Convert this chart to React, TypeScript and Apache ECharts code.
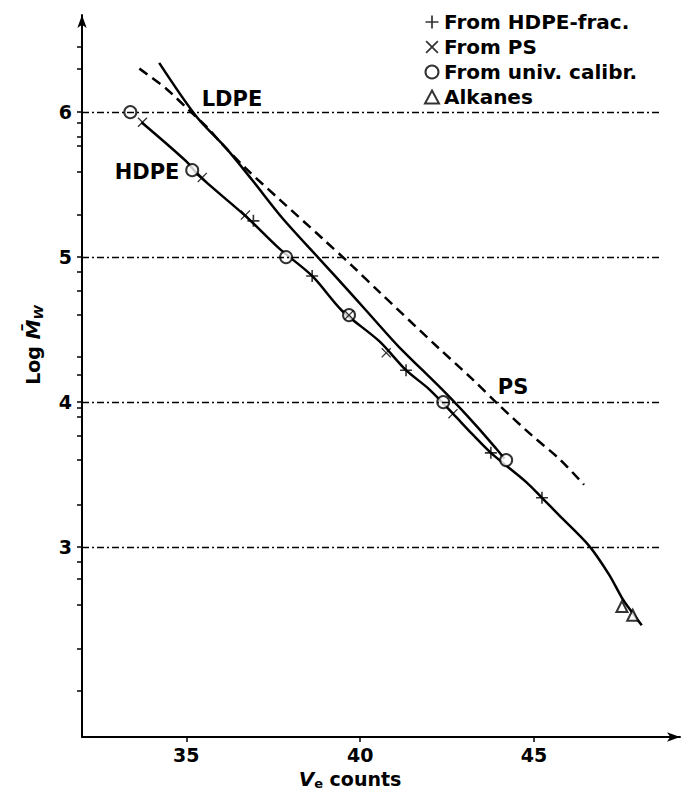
import React, { useEffect, useRef } from "react";
import * as echarts from "echarts";

// Axis ticks and labels
const xTickValues = [35, 40, 45];
const yLabelValues = [3, 4, 5, 6];
const yTickValues = [
  6.45, 6.3, 6, 5.93, 5.83, 5.77, 5.59, 5.29, 5, 4.9, 4.77, 4.6, 4.31, 4.19, 4,
  3.96, 3.9, 3.77, 3.6, 3.29, 3, 2.9, 2.78, 2.6, 2.3, 2.01,
];
const gridLevels = [3, 4, 5, 6];
const gridLineEnd = 48.65;

// Calibration curves: [Ve counts, log Mw]
const ldpeCurve = [
  [34.22, 6.34], [35.29, 5.97], [36.15, 5.75], [36.9, 5.53], [37.76, 5.27],
  [38.82, 4.99], [39.77, 4.74], [40.55, 4.53], [41.12, 4.38], [42.47, 4.06],
  [43.33, 3.84], [43.91, 3.68], [44.15, 3.61],
];
const hdpeCurve = [
  [33.71, 5.93], [35.0, 5.66], [35.37, 5.56], [36.72, 5.28], [37.67, 5.06],
  [38.62, 4.87], [39.48, 4.63], [40.55, 4.42], [41.32, 4.22], [41.98, 4.09],
  [42.67, 3.92], [43.22, 3.78], [43.76, 3.65], [44.77, 3.45], [45.23, 3.34],
  [45.72, 3.22], [46.58, 3.01], [47.16, 2.81], [47.53, 2.65], [47.82, 2.55],
  [48.1, 2.46],
];
const psCurve = [
  [33.65, 6.3], [34.43, 6.16], [35.09, 6.01], [35.58, 5.9], [36.03, 5.78],
  [36.72, 5.61], [37.67, 5.4], [38.91, 5.13], [39.77, 4.94], [40.55, 4.76],
  [42.27, 4.37], [43.22, 4.16], [43.99, 3.98], [44.94, 3.77], [45.72, 3.61],
  [46.44, 3.43],
];

// Measured points
const fromHdpeFrac = [[36.93, 5.25], [38.62, 4.87], [41.32, 4.22], [43.76, 3.65], [45.23, 3.34]];
const fromPs = [[33.74, 5.93], [35.46, 5.55], [36.7, 5.29], [39.68, 4.6], [40.75, 4.34], [42.67, 3.92]];
const fromUnivCalibr = [[33.39, 6.0], [35.17, 5.6], [37.87, 5.0], [39.68, 4.6], [42.39, 4.0], [44.2, 3.6]];
const alkanes = [[47.53, 2.59], [47.84, 2.53]];

const seriesNames = ["From HDPE-frac.", "From PS", "From univ. calibr.", "Alkanes"];

const FONT = "DejaVu Sans";
const plusSymbol = "path://M5.2,0H6.8V5.2H12V6.8H6.8V12H5.2V6.8H0V5.2H5.2Z";
const crossSymbol = "path://M0,1.1L1.1,0L6,4.9L10.9,0L12,1.1L7.1,6L12,10.9L10.9,12L6,7.1L1.1,12L0,10.9L4.9,6Z";

const curveLine = (data: number[][], type: any = "solid") => ({
  type: "line",
  data,
  smooth: 0.3,
  showSymbol: false,
  silent: true,
  z: 2,
  lineStyle: { color: "#000", width: 2.5, type },
});

const label = (text: string, x: number, y: number) => ({
  type: "text",
  x,
  y,
  style: {
    text,
    fontFamily: FONT,
    fontSize: 21,
    fontWeight: "bold",
    fill: "#000",
    align: "center",
    verticalAlign: "middle",
  },
});

const option: any = {
  animation: false,
  backgroundColor: "#fff",
  textStyle: { fontFamily: FONT },
  grid: { left: 82, right: 5, top: 15, bottom: 57 },
  xAxis: {
    type: "value",
    min: 32,
    max: 49.2,
    axisLine: {
      show: true,
      symbol: ["none", "arrow"],
      symbolSize: [7, 13],
      lineStyle: { color: "#000", width: 2 },
    },
    axisTick: { show: true, customValues: xTickValues, length: 5, lineStyle: { color: "#000", width: 1.5 } },
    axisLabel: {
      customValues: xTickValues,
      color: "#000",
      fontFamily: FONT,
      fontSize: 19,
      fontWeight: "bold",
      margin: 8,
    },
    splitLine: { show: false },
  },
  yAxis: {
    type: "value",
    min: 1.69,
    max: 6.67,
    axisLine: {
      show: true,
      symbol: ["none", "arrow"],
      symbolSize: [7, 13],
      lineStyle: { color: "#000", width: 2 },
    },
    axisTick: { show: true, customValues: yTickValues, length: 5, lineStyle: { color: "#000", width: 1.5 } },
    axisLabel: {
      customValues: yLabelValues,
      color: "#000",
      fontFamily: FONT,
      fontSize: 19,
      fontWeight: "bold",
      margin: 10,
    },
    splitLine: { show: false },
  },
  legend: {
    orient: "vertical",
    left: 419,
    top: 7,
    itemWidth: 14,
    itemHeight: 13,
    itemGap: 5,
    data: seriesNames,
    textStyle: { color: "#000", fontFamily: FONT, fontSize: 20, fontWeight: "bold" },
  },
  graphic: [
    label("LDPE", 232, 99),
    label("HDPE", 147, 172),
    label("PS", 513, 387),
    {
      type: "text",
      x: 33,
      y: 345,
      rotation: Math.PI / 2,
      style: {
        text: "{a|Log }{m|M\u0304}{w|W}",
        align: "center",
        verticalAlign: "middle",
        fill: "#000",
        rich: {
          a: { fontFamily: FONT, fontSize: 19, fontWeight: "bold", fill: "#000", lineHeight: 24, verticalAlign: "middle" },
          m: { fontFamily: FONT, fontSize: 20, fontWeight: "bold", fontStyle: "italic", fill: "#000", lineHeight: 24, verticalAlign: "middle" },
          w: { fontFamily: FONT, fontSize: 13, fontWeight: "bold", fontStyle: "italic", fill: "#000", lineHeight: 14, verticalAlign: "bottom" },
        },
      },
    },
    {
      type: "text",
      x: 350,
      y: 779,
      style: {
        text: "{v|V}{e|e}{c| counts}",
        align: "center",
        verticalAlign: "middle",
        fill: "#000",
        rich: {
          v: { fontFamily: FONT, fontSize: 20, fontWeight: "bold", fontStyle: "italic", fill: "#000", lineHeight: 22, verticalAlign: "middle" },
          e: { fontFamily: FONT, fontSize: 13, fontWeight: "bold", fill: "#000", lineHeight: 13, verticalAlign: "bottom" },
          c: { fontFamily: FONT, fontSize: 19, fontWeight: "bold", fill: "#000", lineHeight: 22, verticalAlign: "middle" },
        },
      },
    },
  ],
  series: [
    {
      ...curveLine(hdpeCurve),
      markLine: {
        silent: true,
        symbol: ["none", "none"],
        label: { show: false },
        lineStyle: { color: "#000", width: 1.3, type: [7, 3, 2, 3] },
        data: gridLevels.map((v) => [{ coord: [32, v] }, { coord: [gridLineEnd, v] }]),
      },
    },
    curveLine(ldpeCurve),
    curveLine(psCurve, [10, 6]),
    {
      name: seriesNames[2],
      type: "scatter",
      data: fromUnivCalibr,
      symbol: "emptyCircle",
      symbolSize: 12,
      z: 3,
      itemStyle: { color: "#000", borderColor: "#000", borderWidth: 2 },
    },
    {
      name: seriesNames[0],
      type: "scatter",
      data: fromHdpeFrac,
      symbol: plusSymbol,
      symbolSize: 12,
      z: 4,
      itemStyle: { color: "#000" },
    },
    {
      name: seriesNames[1],
      type: "scatter",
      data: fromPs,
      symbol: crossSymbol,
      symbolSize: 10,
      z: 4,
      itemStyle: { color: "#000" },
    },
    {
      name: seriesNames[3],
      type: "scatter",
      data: alkanes,
      symbol: "emptyTriangle",
      symbolSize: 11,
      z: 3,
      itemStyle: { color: "#000", borderColor: "#000", borderWidth: 2 },
    },
  ],
};

export default function App() {
  const ref = useRef<HTMLDivElement>(null);
  useEffect(() => {
    const chart = echarts.init(ref.current!, undefined, { renderer: "svg" });
    chart.setOption(option);
    return () => chart.dispose();
  }, []);
  return (
    <div
      ref={ref}
      style={{ position: "fixed", left: 0, top: 0, width: 685, height: 794, background: "#fff" }}
    />
  );
}
